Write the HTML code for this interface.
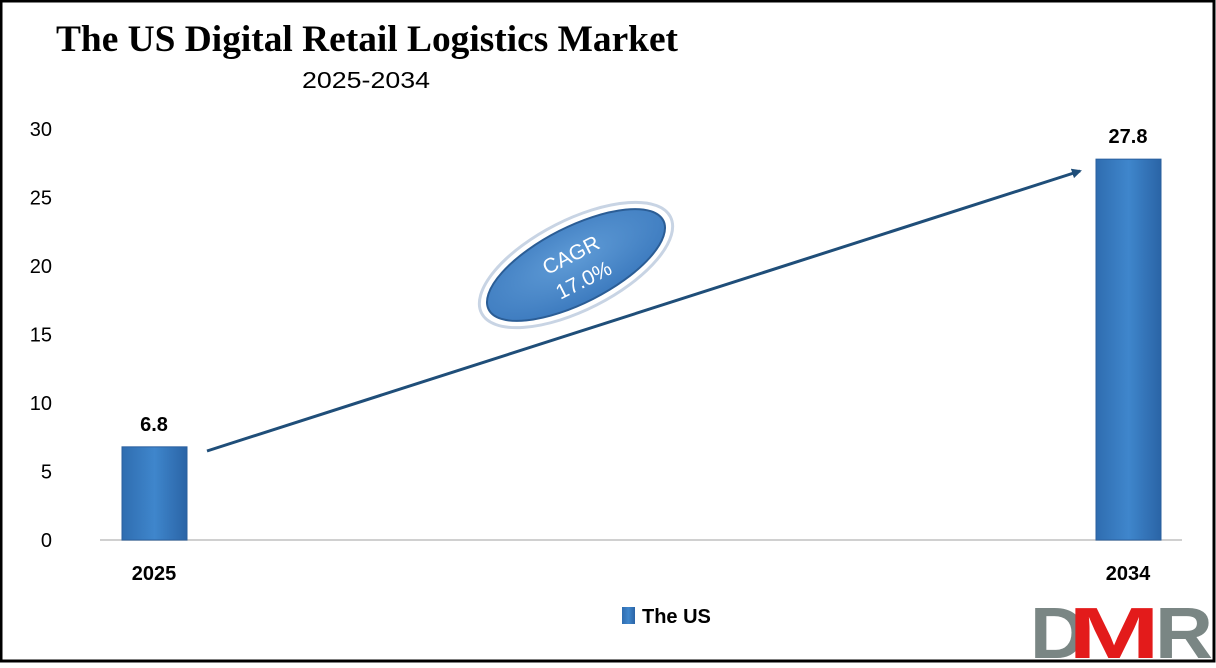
<!DOCTYPE html>
<html><head><meta charset="utf-8"><style>
body{margin:0;width:1216px;height:663px;overflow:hidden;background:#fff;font-family:"Liberation Sans",sans-serif}
</style></head><body>
<svg width="1216" height="663">
<defs>
<linearGradient id="bg" x1="0" x2="1"><stop offset="0" stop-color="#2f6db0"/><stop offset="0.5" stop-color="#3f86cc"/><stop offset="1" stop-color="#2a64a6"/></linearGradient>
<radialGradient id="eg" cx="0.5" cy="0.4" r="0.6"><stop offset="0" stop-color="#5f9bd6"/><stop offset="1" stop-color="#3d7bbf"/></radialGradient>
<marker id="ah" markerWidth="10" markerHeight="10" refX="8" refY="5" orient="auto" markerUnits="userSpaceOnUse"><path d="M0,0 L10,5 L0,10 Z" fill="#1f4e79"/></marker>
</defs>
<rect x="1" y="1" width="1213" height="660" fill="none" stroke="#000" stroke-width="3"/>
<text x="56" y="51" font-family="Liberation Serif,serif" font-weight="bold" font-size="37" textLength="622" lengthAdjust="spacingAndGlyphs">The US Digital Retail Logistics Market</text>
<text x="366" y="88" text-anchor="middle" font-size="23" textLength="128" lengthAdjust="spacingAndGlyphs">2025-2034</text>
<g id="yaxis"></g>
<line x1="100" y1="540" x2="1182" y2="540" stroke="#d0d0d0" stroke-width="2"/>
<g id="bars"></g>
<line x1="207" y1="451" x2="1080" y2="171" stroke="#1f4e79" stroke-width="3" marker-end="url(#ah)"/>
<g transform="translate(576,265) rotate(-27)">
<ellipse rx="106" ry="45" fill="#fff" stroke="#c8d4e4" stroke-width="3"/>
<ellipse rx="98" ry="38" fill="url(#eg)" stroke="#2b5d95" stroke-width="2"/>
<text y="-4" text-anchor="middle" fill="#fff" font-size="21">CAGR</text>
<text y="24" text-anchor="middle" fill="#fff" font-size="21">17.0%</text>
</g>
<rect x="622" y="607" width="13" height="17" fill="url(#bg)"/>
<text x="642" y="623" font-weight="bold" font-size="20">The US</text>
<g font-weight="bold" font-size="72">
<text x="1030" y="658" fill="#7a8684" textLength="56" lengthAdjust="spacingAndGlyphs">D</text>
<text x="1068" y="658" fill="#e31b1b" textLength="92" lengthAdjust="spacingAndGlyphs">M</text>
<text x="1155" y="658" fill="#7a8684" textLength="58" lengthAdjust="spacingAndGlyphs">R</text>
</g>
</svg>
<script>
const categories=["2025","2034"];
const values=[6.8,27.8];
const valueLabels=["6.8","27.8"];
const yTicks=[0,5,10,15,20,25,30];
const ns="http://www.w3.org/2000/svg";
const y=v=>540-v*13.7;
const barX=[122,1096];
const ya=document.getElementById('yaxis');
yTicks.forEach(t=>{const e=document.createElementNS(ns,'text');e.setAttribute('x',52);e.setAttribute('y',y(t)+7);e.setAttribute('text-anchor','end');e.setAttribute('font-size','20');e.textContent=t;


ya.appendChild(e);});
const g=document.getElementById('bars');
values.forEach((v,i)=>{const r=document.createElementNS(ns,'rect');r.setAttribute('x',barX[i]);r.setAttribute('y',y(v));r.setAttribute('width',65);r.setAttribute('height',540-y(v));r.setAttribute('fill','url(#bg)');r.setAttribute('stroke','#2a5f9e');


g.appendChild(r);
const l=document.createElementNS(ns,'text');l.setAttribute('x',barX[i]+32);l.setAttribute('y',y(v)-16);l.setAttribute('text-anchor','middle');l.setAttribute('font-weight','bold');l.setAttribute('font-size','20');l.textContent=valueLabels[i];


g.appendChild(l);
const c=document.createElementNS(ns,'text');c.setAttribute('x',barX[i]+32);c.setAttribute('y',580);c.setAttribute('text-anchor','middle');c.setAttribute('font-weight','bold');c.setAttribute('font-size','20');c.textContent=categories[i];


g.appendChild(c);});
</script>
</body></html>
